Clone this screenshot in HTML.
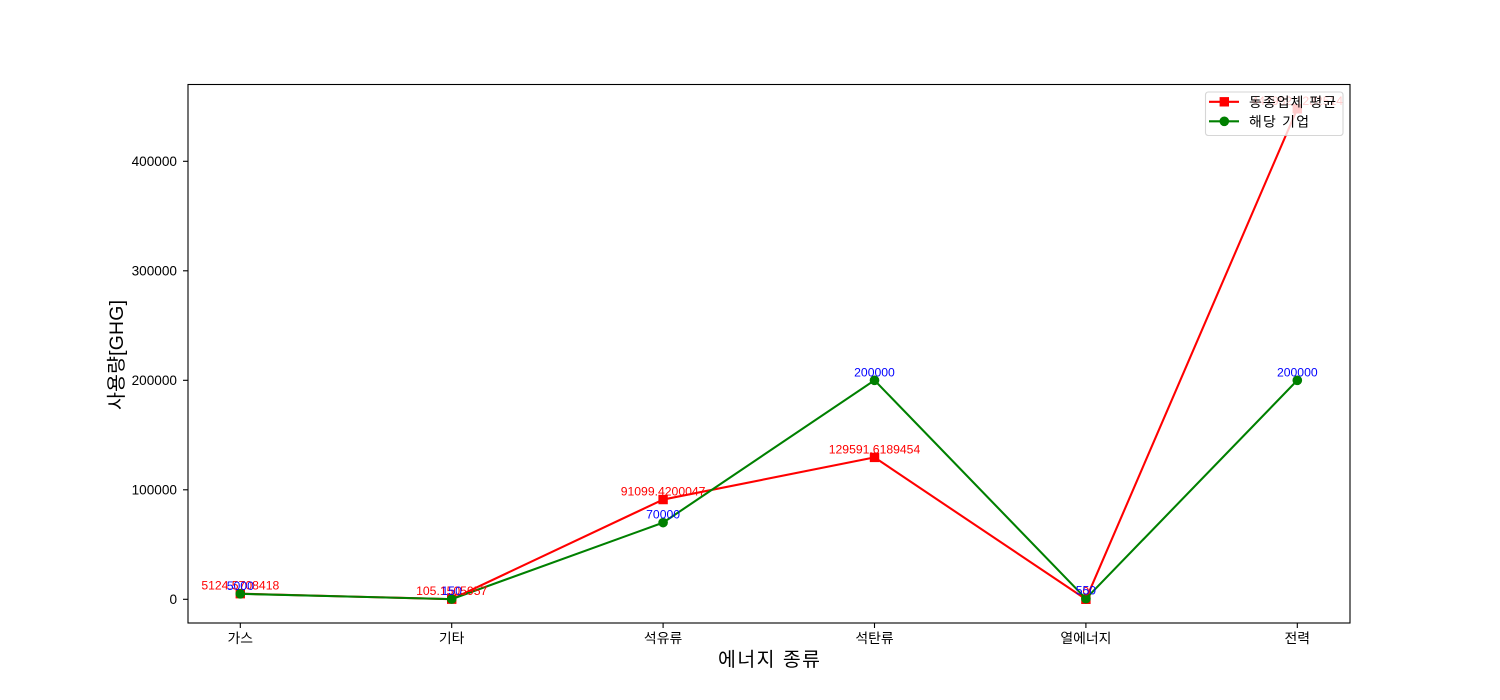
<!DOCTYPE html>
<html lang="ko">
<head>
<meta charset="utf-8">
<title>에너지 종류별 사용량</title>
<style>
html,body{margin:0;padding:0;background:#fff;width:1500px;height:700px;overflow:hidden}
svg{display:block}
text{font-family:"Liberation Sans","Noto Sans CJK KR",sans-serif}
</style>
</head>
<body>
<svg id="chart" xmlns="http://www.w3.org/2000/svg" width="1500" height="700" viewBox="0 0 1500 700">
<rect x="0" y="0" width="1500" height="700" fill="#fff"/>
<g id="plot"></g>
</svg>
<script>
const categories = ['가스', '기타', '석유류', '석탄류', '열에너지', '전력'];
const peerValues = [5124.5708418, 105.1505957, 91099.4200047, 129591.6189454, 0, 447962.1232514];
const companyValues = [5000, 150, 70000, 200000, 550, 200000];
const peerLabels = ['5124.5708418', '105.1505957', '91099.4200047', '129591.6189454', '0', '447962.1232514'];
const companyLabels = ['5000', '150', '70000', '200000', '550', '200000'];
const yTicks = [0, 100000, 200000, 300000, 400000];
const legendNames = ['동종업체 평균', '해당 기업'];

const NS = 'http://www.w3.org/2000/svg';
const plot = document.getElementById('plot');
const L = 188, R = 1350, T = 84.5, B = 623;
function xScale(i) { return 240.3 + i * 211.4; }
function yScale(v) { return 599.3 - v * 0.001095; }
function mk(tag, attrs, parent, txt) {
  const el = document.createElementNS(NS, tag);
  for (const k in attrs) el.setAttribute(k, attrs[k]);
  if (txt !== undefined) el.textContent = txt;
  (parent || plot).appendChild(el);
  return el;
}

// Axes frame
const frame = mk('rect', {x: L, y: T, width: R - L, height: B - T, fill: '#fff', stroke: 'none'});



// Series
function drawSeries(values, color, name, square) {
  const g = mk('g', {});
  
  
  const line = mk('polyline', {
    points: values.map((v, i) => xScale(i) + ',' + yScale(v)).join(' '),
    fill: 'none', stroke: color, 'stroke-width': 2.08, 'stroke-linejoin': 'round'
  }, g);
  
  
  values.forEach((v, i) => {
    const m = square
      ? mk('rect', {x: xScale(i) - 4.7, y: yScale(v) - 4.7, width: 9.4, height: 9.4, fill: color}, g)
      : mk('circle', {cx: xScale(i), cy: yScale(v), r: 4.8, fill: color}, g);
    
    
  });
}
drawSeries(peerValues, '#ff0000', 'peer-average', true);
drawSeries(companyValues, '#008000', 'company', false);

// Value labels
function drawLabels(values, labels, color, name) {
  values.forEach((v, i) => {
    const t = mk('text', {x: xScale(i), y: yScale(v) - 4, 'text-anchor': 'middle', 'font-size': 12.2, fill: color}, plot, labels[i]);
    
    
  });
}
drawLabels(peerValues, peerLabels, '#ff0000', 'peer-average');
drawLabels(companyValues, companyLabels, '#0000ff', 'company');

// Frame outline
const spine = mk('rect', {x: L, y: T, width: R - L, height: B - T, fill: 'none', stroke: '#000', 'stroke-width': 1.1});



// X axis
categories.forEach((c, i) => {
  const tick = mk('line', {x1: xScale(i), x2: xScale(i), y1: B, y2: B + 5, stroke: '#000', 'stroke-width': 1.1});
  
  
  const t = mk('text', {x: xScale(i), y: 643, 'text-anchor': 'middle', 'font-size': 13.9, fill: '#000'}, plot, c);
  
  
});

// Y axis
yTicks.forEach(v => {
  const tick = mk('line', {x1: L - 5, x2: L, y1: yScale(v), y2: yScale(v), stroke: '#000', 'stroke-width': 1.1});
  
  
  const t = mk('text', {x: 177, y: yScale(v) + 4.7, 'text-anchor': 'end', 'font-size': 13.6, fill: '#000'}, plot, String(v));
  
  
});

// Axis titles
const xTitle = mk('text', {x: 769, y: 666, 'text-anchor': 'middle', 'font-size': 19.4, fill: '#000', textLength: 102, lengthAdjust: 'spacing'}, plot, '에너지 종류');


const yTitle = mk('text', {x: 0, y: 0, 'text-anchor': 'middle', 'font-size': 19.4, fill: '#000', textLength: 110, lengthAdjust: 'spacing', transform: 'translate(123,355) rotate(-90)'}, plot, '사용량[GHG]');



// Legend
const legend = mk('g', {});


const box = mk('rect', {x: 1205.5, y: 92, width: 137.5, height: 43.5, rx: 2.8, fill: '#fff', 'fill-opacity': 0.8, stroke: '#ccc', 'stroke-opacity': 0.8, 'stroke-width': 1.1}, legend);


const legendColors = ['#ff0000', '#008000'];
legendNames.forEach((n, i) => {
  const y = 101.8 + i * 19.5;
  const ln = mk('line', {x1: 1209, x2: 1239, y1: y, y2: y, stroke: legendColors[i], 'stroke-width': 2.08}, legend);
  
  
  const mark = i === 0
    ? mk('rect', {x: 1219.6, y: y - 4.7, width: 9.4, height: 9.4, fill: legendColors[i]}, legend)
    : mk('circle', {cx: 1224.3, cy: y, r: 4.8, fill: legendColors[i]}, legend);
  
  
  const t = mk('text', {x: 1249, y: y + 5, 'font-size': 13.9, fill: '#000', textLength: i === 0 ? 87 : 60, lengthAdjust: 'spacing'}, legend, n);
  
  
});
</script>
</body>
</html>
